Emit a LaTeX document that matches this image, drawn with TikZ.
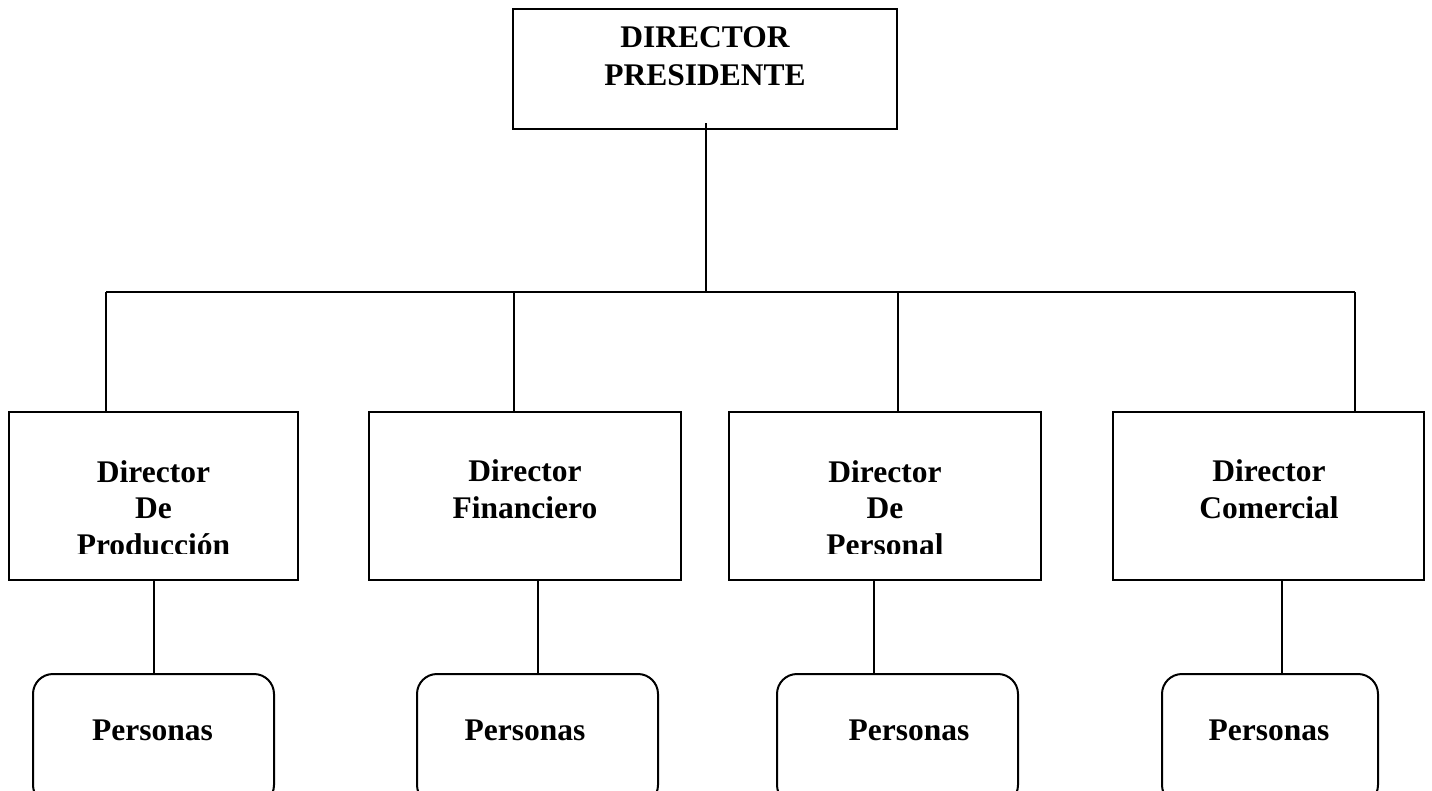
\documentclass[tikz,border=0pt]{standalone}
\usepackage{fontspec}
\setmainfont{Liberation Serif}
\usetikzlibrary{calc}
\begin{document}
\begin{tikzpicture}[x=1pt,y=-1pt,line width=2pt,
  box/.style={draw, rectangle, inner sep=0pt, outer sep=0pt},
  leaf/.style={draw, rectangle, rounded corners=20pt, inner sep=0pt, outer sep=0pt},
  lbl/.style={font=\fontsize{31.5}{36.5}\selectfont\bfseries, align=center, inner sep=0pt, anchor=base},
  toplbl/.style={lbl, font=\fontsize{31.5}{38}\selectfont\bfseries}]
\useasboundingbox (0,0) rectangle (1432,790);

% head of the organisation (labels are anchored at the baseline of their last line)
\node[box, minimum width=384pt, minimum height=120pt] (pres) at (705,69) {};
\node[toplbl] (presl) at (705,85) {DIRECTOR\\PRESIDENTE};

% directors
\node[box, minimum width=289pt, minimum height=168pt] (b1) at (153.5,496) {};
\node[box, minimum width=312pt, minimum height=168pt] (b2) at (525,496) {};
\node[box, minimum width=312pt, minimum height=168pt] (b3) at (885,496) {};
\node[box, minimum width=311pt, minimum height=168pt] (b4) at (1268.5,496) {};

\begin{scope}
  \clip (0,405) rectangle (1432,553);
  \node[lbl] (l1) at (153.5,555) {Director\\De\\Producción};
  \node[lbl] (l3) at (885,555) {Director\\De\\Personal};
\end{scope}
\node[lbl] (l2) at (525,518) {Director\\Financiero};
\node[lbl] (l4) at (1269,518) {Director\\Comercial};

% staff under each director
\node[leaf, minimum width=241pt, minimum height=131pt] (p1) at (153.5,739.5) {};
\node[leaf, minimum width=241pt, minimum height=131pt] (p2) at (537.5,739.5) {};
\node[leaf, minimum width=241pt, minimum height=131pt] (p3) at (897.5,739.5) {};
\node[leaf, minimum width=216pt, minimum height=131pt] (p4) at (1270,739.5) {};
\node[lbl] (q1) at (152.5,740) {Personas};
\node[lbl] (q2) at (525,740) {Personas};
\node[lbl] (q3) at (909,740) {Personas};
\node[lbl] (q4) at (1269,740) {Personas};

% connectors
\coordinate (hub) at (706,292);
\coordinate (j1) at (106,292);
\coordinate (j2) at (514,292);
\coordinate (j3) at (898,292);
\coordinate (j4) at (1355,292);
\draw ($(pres.south)+(1,-6)$) -- (hub);
\draw (j1) -- (j4);
\foreach \i in {1,2,3,4} \draw (j\i) -- (j\i |- b\i.north);

\coordinate (s1) at ([xshift=0.5pt]b1.south);
\coordinate (s2) at ([xshift=13pt]b2.south);
\coordinate (s3) at ([xshift=-11pt]b3.south);
\coordinate (s4) at ([xshift=13.5pt]b4.south);
\foreach \i in {1,2,3,4} \draw (s\i) -- (s\i |- p\i.north);
\end{tikzpicture}
\end{document}
